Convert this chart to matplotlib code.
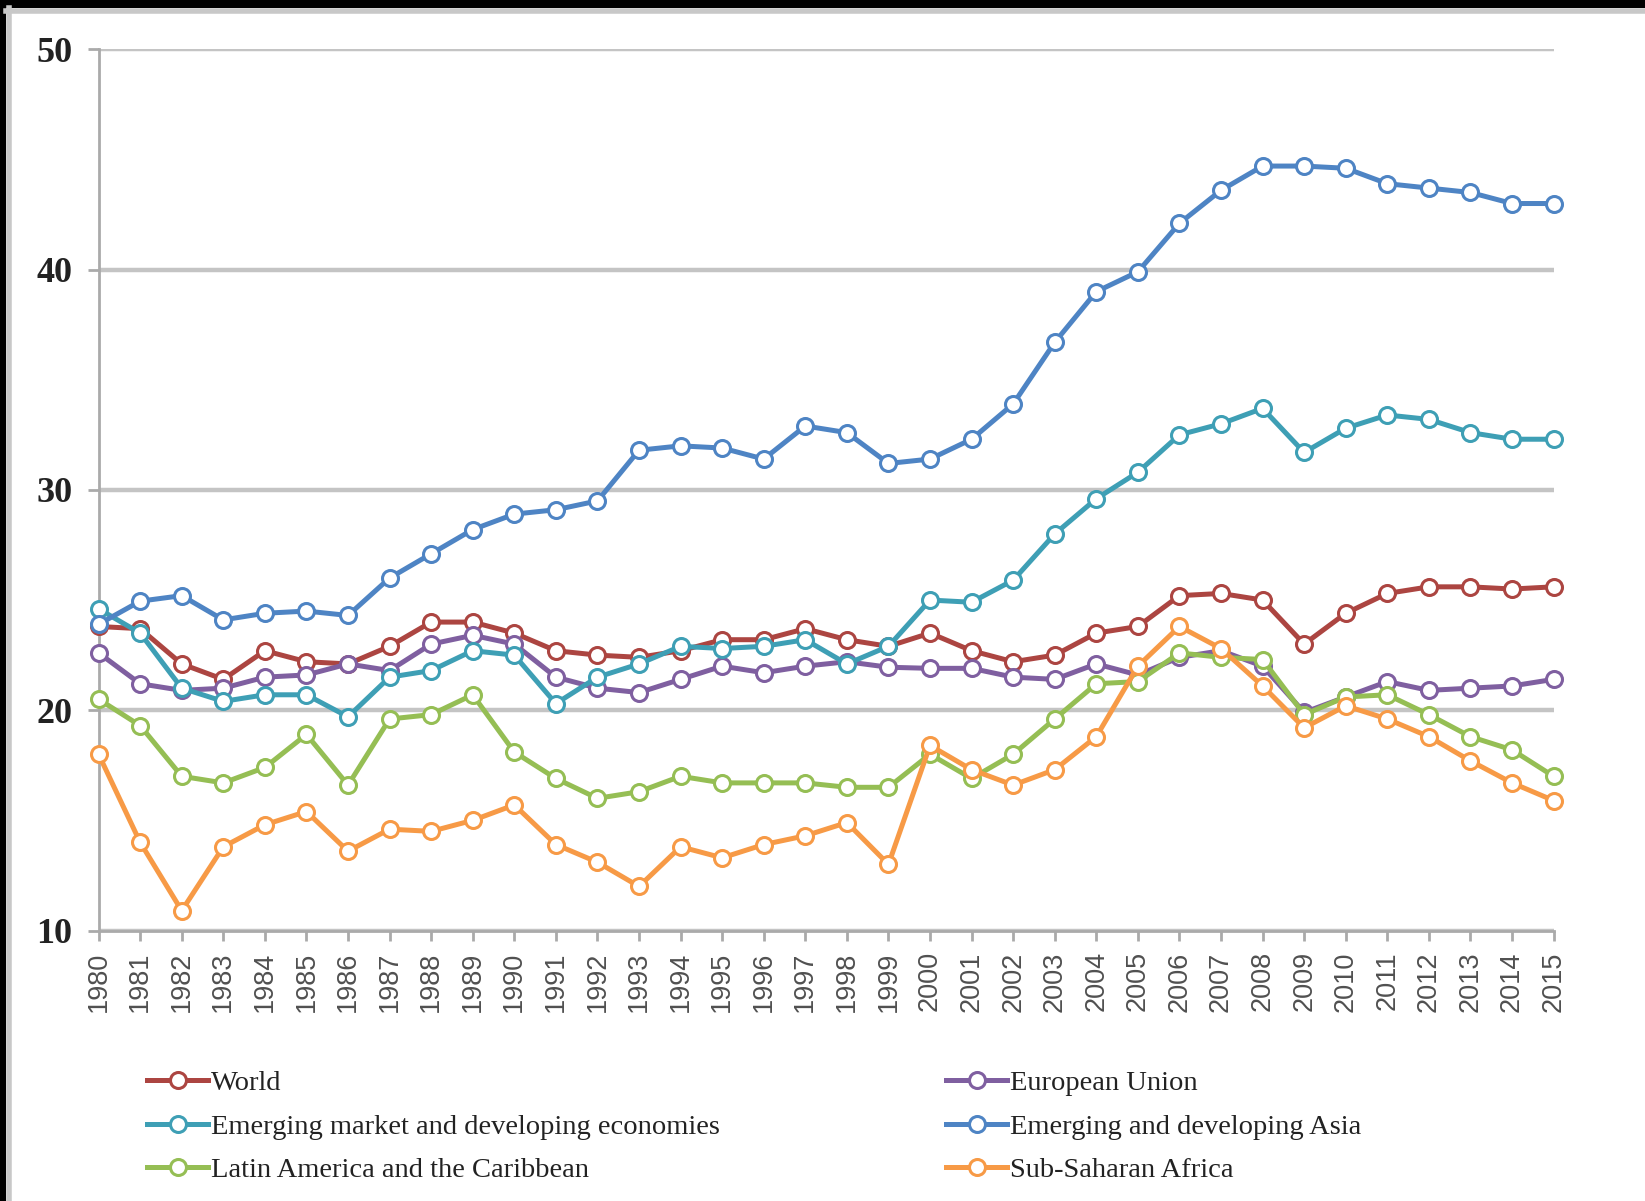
import matplotlib
matplotlib.use("Agg")
import matplotlib.pyplot as plt
from matplotlib.patches import Rectangle
from matplotlib.lines import Line2D

years = list(range(1980, 2016))

world = [23.8, 23.7, 22.1, 21.4, 22.7, 22.2, 22.1, 22.9, 24.0, 24.0,
         23.5, 22.7, 22.5, 22.4, 22.7, 23.2, 23.2, 23.7, 23.2, 22.9,
         23.5, 22.7, 22.2, 22.5, 23.5, 23.8, 25.2, 25.3, 25.0, 23.0,
         24.4, 25.3, 25.6, 25.6, 25.5, 25.6]
eu = [22.6, 21.2, 20.9, 21.0, 21.5, 21.6, 22.1, 21.8, 23.0, 23.4,
      23.0, 21.5, 21.0, 20.8, 21.4, 22.0, 21.7, 22.0, 22.2, 21.95,
      21.9, 21.9, 21.5, 21.4, 22.1, 21.6, 22.4, 22.7, 22.0, 19.9,
      20.6, 21.3, 20.9, 21.0, 21.1, 21.4]
emerging = [24.6, 23.5, 21.0, 20.4, 20.7, 20.7, 19.7, 21.5, 21.8, 22.7,
            22.5, 20.3, 21.5, 22.1, 22.9, 22.8, 22.9, 23.2, 22.1, 22.9,
            25.0, 24.9, 25.9, 28.0, 29.6, 30.8, 32.5, 33.0, 33.7, 31.7,
            32.8, 33.4, 33.2, 32.6, 32.3, 32.3]
asia = [23.9, 24.95, 25.2, 24.1, 24.4, 24.5, 24.3, 26.0, 27.1, 28.2,
        28.9, 29.1, 29.5, 31.8, 32.0, 31.9, 31.4, 32.9, 32.6, 31.2,
        31.4, 32.3, 33.9, 36.7, 39.0, 39.9, 42.1, 43.6, 44.7, 44.7,
        44.6, 43.9, 43.7, 43.5, 43.0, 43.0]
latam = [20.5, 19.3, 17.0, 16.7, 17.4, 18.9, 16.6, 19.6, 19.8, 20.7,
         18.1, 16.9, 16.0, 16.3, 17.0, 16.7, 16.7, 16.7, 16.5, 16.5,
         18.0, 16.9, 18.0, 19.6, 21.2, 21.3, 22.6, 22.4, 22.3, 19.8,
         20.6, 20.7, 19.8, 18.8, 18.2, 17.0]
ssa = [18.0, 14.0, 10.9, 13.8, 14.8, 15.4, 13.6, 14.6, 14.5, 15.0,
       15.7, 13.9, 13.1, 12.0, 13.8, 13.3, 13.9, 14.3, 14.9, 13.0,
       18.4, 17.3, 16.6, 17.3, 18.8, 22.0, 23.8, 22.8, 21.1, 19.2,
       20.2, 19.6, 18.8, 17.7, 16.7, 15.9]

labels = ["World", "European Union",
          "Emerging market and developing economies", "Emerging and developing Asia",
          "Latin America and the Caribbean", "Sub-Saharan Africa"]
series = [world, eu, emerging, asia, latam, ssa]
colors = ["#AC4541", "#7F5FA0", "#3E9FB5", "#4E84C4", "#95BE54", "#F79A46"]

y_ticks = [10, 20, 30, 40, 50]

LW = 3.6
MS = 11.5
MEW = 2.2

fig = plt.figure(figsize=(16.45, 12.01), dpi=100)
fig.patch.set_facecolor("black")
fig.patches.append(Rectangle((6 / 1645, 0), 1, 1 - 8 / 1201,
                             transform=fig.transFigure, facecolor="white",
                             edgecolor="none", zorder=-10))
fig.lines.append(Line2D([6 / 1645, 1], [1 - 11 / 1201, 1 - 11 / 1201],
                        transform=fig.transFigure, color="#C8C8C8", linewidth=4, zorder=-9))
fig.lines.append(Line2D([9 / 1645, 9 / 1645], [0, 1 - 8 / 1201],
                        transform=fig.transFigure, color="#C8C8C8", linewidth=4, zorder=-9))

ax = fig.add_axes([98.6 / 1645, 1 - 930.5 / 1201, (1553.6 - 98.6) / 1645, (930.5 - 49.3) / 1201])
ax.set_facecolor("none")

order = [4, 5, 1, 0, 2, 3]
for i in order:
    ax.plot(years, series[i], color=colors[i], linewidth=LW, marker="o",
            markersize=MS, markerfacecolor="white", markeredgecolor=colors[i],
            markeredgewidth=MEW, clip_on=False, zorder=3 + i)

ax.set_xlim(1980, 2015)
ax.set_ylim(10, 50)
ax.set_yticks(y_ticks)
ax.set_yticklabels([str(v) for v in y_ticks], fontfamily="Liberation Serif",
                   fontweight="bold", fontsize=26, color="#222222")
ax.set_xticks(years)
ax.set_xticklabels([str(y) for y in years], rotation=90, fontfamily="Liberation Sans",
                   fontsize=19.5, color="#505050")
ax.grid(axis="y", color="#C4C4C4", linewidth=3.2, zorder=1)
ax.set_axisbelow(True)
for s in ["top", "right"]:
    ax.spines[s].set_visible(False)
ax.spines["left"].set_color("#AAAAAA")
ax.spines["left"].set_linewidth(2)
ax.spines["bottom"].set_color("#AAAAAA")
ax.spines["bottom"].set_linewidth(2)
ax.tick_params(axis="x", length=7, width=2, color="#AAAAAA", pad=8)
ax.tick_params(axis="y", length=8, width=2, color="#AAAAAA", pad=11)

handles = [Line2D([], [], color=c, linewidth=LW, marker="o", markersize=MS,
                  markerfacecolor="white", markeredgecolor=c, markeredgewidth=MEW)
           for c in colors]

leg_kw = dict(frameon=False, prop={"family": "Liberation Serif", "size": 20.5},
              handlelength=2.15, handletextpad=0.1, labelspacing=0.62,
              loc="upper left", borderaxespad=0, borderpad=0)
leg1 = fig.legend([handles[0], handles[2], handles[4]], [labels[0], labels[2], labels[4]],
                  bbox_to_anchor=(147 / 1645, 1 - 1070 / 1201), **leg_kw)
leg2 = fig.legend([handles[1], handles[3], handles[5]], [labels[1], labels[3], labels[5]],
                  bbox_to_anchor=(946 / 1645, 1 - 1070 / 1201), **leg_kw)
for leg in (leg1, leg2):
    for t in leg.get_texts():
        t.set_color("#222222")

fig.savefig("out.png", dpi=100, facecolor=fig.get_facecolor())
